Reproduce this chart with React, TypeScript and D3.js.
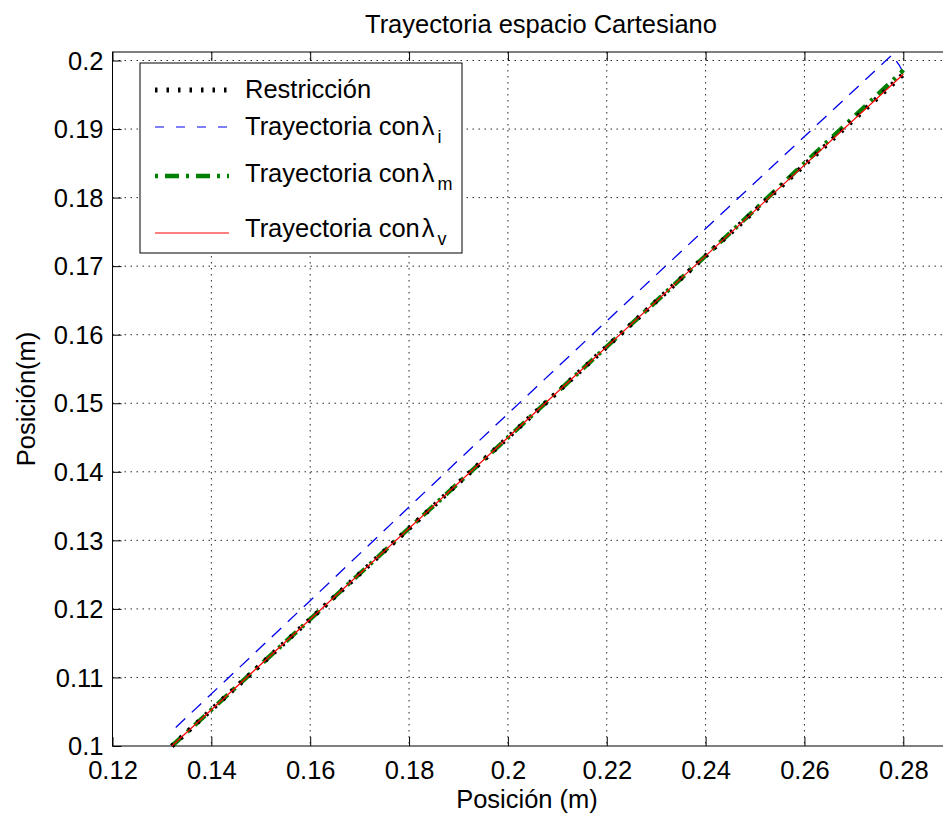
import React, { useEffect, useRef } from 'react'
import { select, scaleLinear, line, axisBottom, axisLeft, axisTop } from 'd3'

// axis ticks
const xTicks = [0.12, 0.14, 0.16, 0.18, 0.2, 0.22, 0.24, 0.26, 0.28]
const xTickLabels = ['0.12', '0.14', '0.16', '0.18', '0.2', '0.22', '0.24', '0.26', '0.28']
const yTicks = [0.1, 0.11, 0.12, 0.13, 0.14, 0.15, 0.16, 0.17, 0.18, 0.19, 0.2]
const yTickLabels = ['0.1', '0.11', '0.12', '0.13', '0.14', '0.15', '0.16', '0.17', '0.18', '0.19', '0.2']

// series
const restriccionX = [0.132, 0.16, 0.2, 0.24, 0.28]
const restriccionY = [0.1, 0.1185, 0.145, 0.1715, 0.198]
const lambdaIX = [0.1328, 0.16, 0.19, 0.22, 0.25, 0.2777, 0.2792, 0.28]
const lambdaIY = [0.1027, 0.1212, 0.1417, 0.162, 0.1822, 0.2008, 0.1993, 0.1982]
const lambdaMX = [0.132, 0.16, 0.2, 0.24, 0.2795, 0.28]
const lambdaMY = [0.1, 0.1185, 0.145, 0.1715, 0.1982, 0.1986]
const lambdaVX = [0.132, 0.16, 0.2, 0.24, 0.28]
const lambdaVY = [0.1, 0.1185, 0.145, 0.1715, 0.198]

const legendLabels = ['Restricción', 'Trayectoria con', 'Trayectoria con', 'Trayectoria con']
const legendSubs = ['', 'i', 'm', 'v']

const FONT = '"Liberation Sans", Arial, Helvetica, sans-serif'
const FS = 25.5

export default function App() {
    const ref = useRef<SVGSVGElement>(null)

    useEffect(() => {
        document.body.style.margin = '0'
        const width = 943
        const height = 822
        const box = { l: 112.5, r: 944, t: 52, b: 746 }

        const xScale = scaleLinear().domain([0.12, 0.28]).range([box.l, 903.3])
        const yScale = scaleLinear().domain([0.1, 0.2]).range([box.b, 60.5])

        const svg = select(ref.current)
            .attr('width', width).attr('height', height)
            .style('font-family', FONT)
        svg.selectAll('*').remove()

        svg.append('rect').attr('width', width).attr('height', height).attr('fill', '#fff')

        // grid
        const grid = svg.append('g').attr('class', 'grid')
            .attr('stroke', '#111').attr('stroke-width', 0.9).attr('stroke-dasharray', '1.5,4.5')
        grid.selectAll('.gx').data(xTicks.slice(1)).join('line').attr('class', 'gx')
            .attr('x1', d => xScale(d)).attr('x2', d => xScale(d))
            .attr('y1', box.t).attr('y2', box.b)
        grid.selectAll('.gy').data(yTicks.slice(1)).join('line').attr('class', 'gy')
            .attr('y1', d => yScale(d)).attr('y2', d => yScale(d))
            .attr('x1', box.l).attr('x2', box.r)

        // axes
        const xAxis = axisBottom(xScale).tickValues(xTicks)
            .tickFormat((d, i) => xTickLabels[i])
            .tickSizeInner(-9).tickSizeOuter(0).tickPadding(15)
        const gx = svg.append('g').attr('transform', `translate(0,${box.b})`).call(xAxis)
        gx.select('.domain').remove()
        gx.selectAll('text').attr('font-size', FS).attr('font-family', FONT).attr('fill', '#000')

        const xAxisTop = axisTop(xScale).tickValues(xTicks).tickFormat(() => '')
            .tickSizeInner(-9).tickSizeOuter(0)
        const gxt = svg.append('g').attr('transform', `translate(0,${box.t})`).call(xAxisTop)
        gxt.select('.domain').remove()

        const yAxis = axisLeft(yScale).tickValues(yTicks)
            .tickFormat((d, i) => yTickLabels[i])
            .tickSizeInner(-9).tickSizeOuter(0).tickPadding(9)
        const gy = svg.append('g').attr('transform', `translate(${box.l},0)`).call(yAxis)
        gy.select('.domain').remove()
        gy.selectAll('text').attr('font-size', FS).attr('font-family', FONT).attr('fill', '#000')
            .attr('dy', '0.34em')

        svg.selectAll('.tick line').attr('stroke', '#000')

        // box
        svg.append('rect')
            .attr('x', box.l).attr('y', box.t)
            .attr('width', box.r - box.l).attr('height', box.b - box.t)
            .attr('fill', 'none').attr('stroke', '#000').attr('stroke-width', 1)

        // series
        const mk = (xs: number[], ys: number[]) => xs.map((x, i) => [x, ys[i]] as [number, number])
        const path = line<[number, number]>().x(d => xScale(d[0])).y(d => yScale(d[1]))

        const series = [
            { key: 'i', pts: mk(lambdaIX, lambdaIY), color: '#0000ee', w: 1.3, dash: '13,9' },
            { key: 'm', pts: mk(lambdaMX, lambdaMY), color: '#008000', w: 4.5, dash: '14,7,3,7' },
            { key: 'r', pts: mk(restriccionX, restriccionY), color: '#000', w: 5, dash: '2.5,9' },
            { key: 'v', pts: mk(lambdaVX, lambdaVY), color: '#ff0000', w: 1.2, dash: null },
        ]
        svg.append('g').selectAll('path').data(series).join('path')
            .attr('d', d => path(d.pts))
            .attr('fill', 'none')
            .attr('stroke', d => d.color)
            .attr('stroke-width', d => d.w)
            .attr('stroke-dasharray', d => d.dash)

        // legend
        const leg = svg.append('g').attr('class', 'legend')
        leg.append('rect').attr('x', 140).attr('y', 63).attr('width', 322).attr('height', 190)
            .attr('fill', '#fff').attr('stroke', '#000').attr('stroke-width', 1)
        const legLineY = [90, 127, 176, 233]
        const legTextY = [98, 135, 182, 237]
        const legStyle = [
            { color: '#000', w: 5, dash: '2.5,9' },
            { color: '#0000ee', w: 1.2, dash: '9,12' },
            { color: '#008000', w: 4.5, dash: '3,7,14,7' },
            { color: '#ff0000', w: 1.2, dash: null },
        ]
        leg.selectAll('line').data(legStyle).join('line')
            .attr('x1', 155).attr('x2', 229)
            .attr('y1', (d, i) => legLineY[i]).attr('y2', (d, i) => legLineY[i])
            .attr('stroke', d => d.color).attr('stroke-width', d => d.w)
            .attr('stroke-dasharray', d => d.dash)
        leg.selectAll('text').data(legendLabels).join('text')
            .attr('x', 245).attr('y', (d, i) => legTextY[i])
            .attr('font-size', FS).attr('fill', '#000')
            .each(function (d, i) {
                const t = select(this)
                t.append('tspan').text(d)
                if (legendSubs[i] !== '') {
                    t.append('tspan').attr('dx', 2).text('λ')
                    t.append('tspan').attr('dx', 3).attr('dy', 8).attr('font-size', 18).text(legendSubs[i])
                }
            })

        // title and labels
        svg.append('text').attr('x', 541).attr('y', 33).attr('text-anchor', 'middle')
            .attr('font-size', FS).text('Trayectoria espacio Cartesiano')
        svg.append('text').attr('x', 527).attr('y', 808).attr('text-anchor', 'middle')
            .attr('font-size', FS).text('Posición (m)')
        svg.append('text').attr('transform', `translate(35,399) rotate(-90)`)
            .attr('text-anchor', 'middle').attr('font-size', FS).text('Posición(m)')
    }, [])

    return <svg ref={ref} style={{ display: 'block' }}></svg>
}
